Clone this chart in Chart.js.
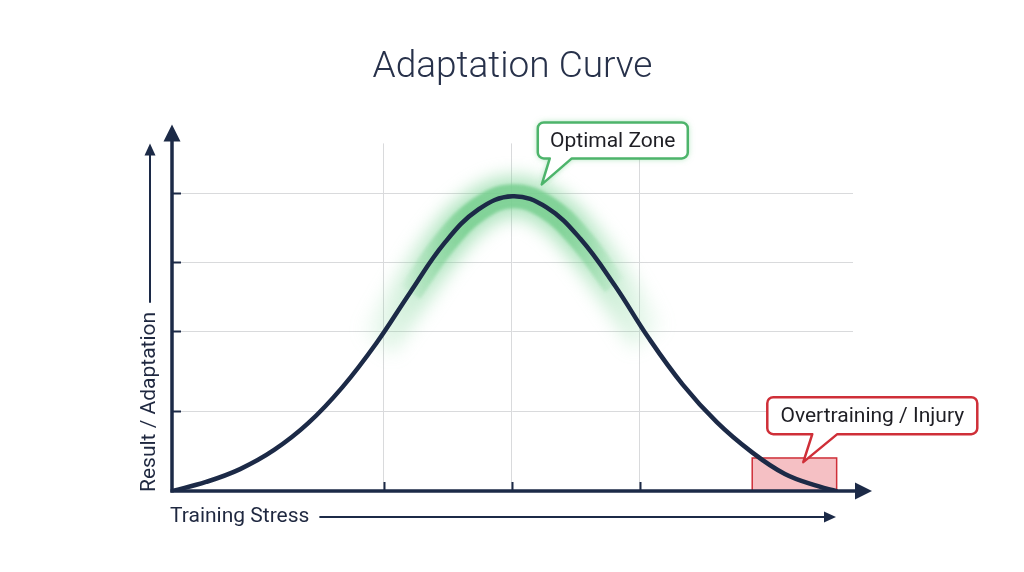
<!DOCTYPE html>
<html>
<head>
<meta charset="utf-8">
<title>Adaptation Curve</title>
<script src="https://cdn.jsdelivr.net/npm/chart.js@4.4.1/dist/chart.umd.min.js"></script>
<style>
  html, body { margin: 0; padding: 0; background: #ffffff; }
  #wrap { width: 1024px; height: 572px; position: relative; }
</style>
</head>
<body>
<div id="wrap"><canvas id="chart"></canvas></div>
<script>
// Data (x: training stress 0-100, y: adaptation 0-100)
const stressValues     = [0, 5, 10, 15, 20, 25, 30, 35, 40, 45, 50, 55, 60, 65, 70, 75, 80, 85, 90, 95, 97.5];
const adaptationValues = [0, 2.6, 6.3, 11.8, 19.5, 29.8, 42.5, 57.2, 71.3, 81.0, 84.8, 81.6, 72.5, 59.2, 44.0, 30.6, 19.8, 11.4, 4.9, 1.3, 0];

const xGridValues = [31.1, 49.9, 68.7];
const yGridValues = [23.0, 46.0, 65.8, 85.6];

const optimalRange = [27, 73];      // soft glow along the curve
const peakRange = [33, 67];         // solid band around the peak
const dangerZone = [85.2, 97.6, 9.5]; // from, to, height
const optimalTip = [54.3, 88.2];
const injuryTip = [92.7, 8.3];

const titleText = 'Adaptation Curve';
const xLabel = 'Training Stress';
const yLabel = 'Result / Adaptation';
const optimalText = 'Optimal Zone';
const injuryText = 'Overtraining / Injury';

const navy = '#1c2a47';
const gridGrey = '#d9dadc';
const green = '#4db46b';
const red = '#cf2f38';
const font = 'Roboto, "Noto Sans", sans-serif';

const curvePoints = stressValues.map((x, i) => ({ x, y: adaptationValues[i] }));
const inRange = (r) => curvePoints.filter(p => p.x >= r[0] && p.x <= r[1]);

const glowColor = (range, rgb, alpha) => (context) => {
    const chart = context.chart;
    if (!chart.chartArea) return 'rgba(0,0,0,0)';
    const xs = chart.scales.x;
    const g = chart.ctx.createLinearGradient(xs.getPixelForValue(range[0]), 0, xs.getPixelForValue(range[1]), 0);
    g.addColorStop(0, `rgba(${rgb}, 0)`);
    g.addColorStop(0.3, `rgba(${rgb}, ${alpha})`);
    g.addColorStop(0.7, `rgba(${rgb}, ${alpha})`);
    g.addColorStop(1, `rgba(${rgb}, 0)`);
    return g;
};

function calloutPath(ctx, x, y, w, h, r, t0, t1, tx, ty) {
    ctx.beginPath();
    ctx.moveTo(x + r, y);
    ctx.lineTo(x + w - r, y);
    ctx.arcTo(x + w, y, x + w, y + r, r);
    ctx.lineTo(x + w, y + h - r);
    ctx.arcTo(x + w, y + h, x + w - r, y + h, r);
    ctx.lineTo(t1, y + h);
    ctx.lineTo(tx, ty);
    ctx.lineTo(t0, y + h);
    ctx.lineTo(x + r, y + h);
    ctx.arcTo(x, y + h, x, y + h - r, r);
    ctx.lineTo(x, y + r);
    ctx.arcTo(x, y, x + r, y, r);
    ctx.closePath();
}

function drawCallout(ctx, tx, ty, box, color, glow, text) {
    const x = tx + box.dx, y = ty + box.dy;
    ctx.save();
    calloutPath(ctx, x, y, box.w, box.h, 6, tx + box.t0, tx + box.t1, tx, ty);
    ctx.fillStyle = '#ffffff';
    if (glow) { ctx.shadowColor = glow; ctx.shadowBlur = 6; }
    ctx.fill();
    ctx.shadowBlur = 0;
    ctx.lineWidth = 2.5;
    ctx.strokeStyle = color;
    ctx.lineJoin = 'round';
    ctx.stroke();
    ctx.fillStyle = '#1e1e24';
    ctx.font = `21px ${font}`;
    ctx.textAlign = 'center';
    ctx.textBaseline = 'middle';
    ctx.fillText(text, x + box.w / 2, y + box.h / 2 + 1);
    ctx.restore();
}

function arrowHead(ctx, tipX, tipY, dir, len, half) {
    ctx.beginPath();
    if (dir === 'up') {
        ctx.moveTo(tipX, tipY);
        ctx.lineTo(tipX - half, tipY + len);
        ctx.lineTo(tipX + half, tipY + len);
    } else {
        ctx.moveTo(tipX, tipY);
        ctx.lineTo(tipX - len, tipY - half);
        ctx.lineTo(tipX - len, tipY + half);
    }
    ctx.closePath();
    ctx.fill();
}

const decorPlugin = {
    id: 'decor',
    beforeDatasetsDraw(chart) {
        const { ctx, scales: { x, y } } = chart;
        // overtraining zone
        const x0 = x.getPixelForValue(dangerZone[0]);
        const x1 = x.getPixelForValue(dangerZone[1]);
        const y0 = y.getPixelForValue(dangerZone[2]);
        const y1 = y.getPixelForValue(0);
        ctx.save();
        ctx.fillStyle = 'rgba(236, 130, 138, 0.5)';
        ctx.fillRect(x0, y0, x1 - x0, y1 - y0);
        ctx.strokeStyle = red;
        ctx.lineWidth = 1.5;
        ctx.strokeRect(x0, y0, x1 - x0, y1 - y0);
        ctx.restore();
    },
    beforeDatasetDraw(chart, args) {
        const ds = chart.data.datasets[args.index];
        if (ds.blur) {
            chart.ctx.save();
            chart.ctx.filter = `blur(${ds.blur}px)`;
        }
    },
    afterDatasetDraw(chart, args) {
        const ds = chart.data.datasets[args.index];
        if (ds.blur) chart.ctx.restore();
    },
    afterDatasetsDraw(chart) {
        const { ctx, chartArea: { left, right, top, bottom }, scales: { x, y } } = chart;
        ctx.save();
        ctx.strokeStyle = navy;
        ctx.fillStyle = navy;

        // tick marks
        ctx.lineWidth = 2;
        yGridValues.forEach(v => {
            const py = Math.round(y.getPixelForValue(v)) + 0.5;
            ctx.beginPath(); ctx.moveTo(left, py); ctx.lineTo(left + 9, py); ctx.stroke();
        });
        xGridValues.forEach(v => {
            const px = Math.round(x.getPixelForValue(v)) + 0.5;
            ctx.beginPath(); ctx.moveTo(px, bottom); ctx.lineTo(px, bottom - 9); ctx.stroke();
        });

        // axes with arrows
        ctx.lineWidth = 3.5;
        ctx.beginPath();
        ctx.moveTo(left, bottom + 1.5);
        ctx.lineTo(left, top - 4);
        ctx.stroke();
        arrowHead(ctx, left, top - 19, 'up', 17, 8.5);
        ctx.beginPath();
        ctx.moveTo(left - 1.5, bottom);
        ctx.lineTo(right + 4, bottom);
        ctx.stroke();
        arrowHead(ctx, right + 19, bottom, 'right', 17, 8.5);

        // axis labels with arrows
        ctx.font = `21px ${font}`;
        ctx.textBaseline = 'middle';
        ctx.fillStyle = '#1f2840';
        const ly = bottom + 26;
        ctx.textAlign = 'left';
        ctx.fillText(xLabel, left - 2, ly);
        const xw = ctx.measureText(xLabel).width;
        ctx.lineWidth = 2;
        ctx.fillStyle = navy;
        ctx.beginPath();
        ctx.moveTo(left - 2 + xw + 10, ly);
        ctx.lineTo(right - 26, ly);
        ctx.stroke();
        arrowHead(ctx, right - 17, ly, 'right', 12, 5.5);

        const lx = left - 22;
        ctx.save();
        ctx.translate(lx, bottom + 1);
        ctx.rotate(-Math.PI / 2);
        ctx.fillStyle = '#1f2840';
        ctx.textAlign = 'left';
        ctx.fillText(yLabel, 0, 0);
        ctx.restore();
        const yw = ctx.measureText(yLabel).width;
        ctx.beginPath();
        ctx.moveTo(lx, bottom - yw - 8);
        ctx.lineTo(lx, top + 10);
        ctx.stroke();
        arrowHead(ctx, lx, top, 'up', 12, 5.5);
        ctx.restore();

        // callouts
        drawCallout(ctx, x.getPixelForValue(optimalTip[0]), y.getPixelForValue(optimalTip[1]),
            { dx: -4, dy: -62, w: 150, h: 36, t0: 8, t1: 30 }, green, 'rgba(88, 200, 118, 0.6)', optimalText);
        drawCallout(ctx, x.getPixelForValue(injuryTip[0]), y.getPixelForValue(injuryTip[1]),
            { dx: -36, dy: -65, w: 210, h: 37, t0: 9, t1: 34 }, red, null, injuryText);
    }
};

// datasets are painted last-to-first, so the curve comes first to sit on top
new Chart(document.getElementById('chart'), {
    type: 'line',
    data: {
        datasets: [
            {
                label: 'Adaptation',
                data: curvePoints,
                borderColor: navy,
                borderWidth: 4.5,
                pointRadius: 0,
                tension: 0.4,
                borderCapStyle: 'round'
            },
            {
                label: 'glow-inner',
                data: inRange(peakRange),
                borderColor: glowColor(peakRange, '118, 206, 142', 0.8),
                borderWidth: 24,
                blur: 1.5,
                pointRadius: 0,
                tension: 0.4
            },
            {
                label: 'glow-outer',
                data: inRange(optimalRange),
                borderColor: glowColor(optimalRange, '120, 210, 146', 0.6),
                borderWidth: 40,
                blur: 9,
                pointRadius: 0,
                tension: 0.4
            }
        ]
    },
    options: {
        responsive: true,
        maintainAspectRatio: false,
        animation: false,
        layout: { padding: { left: 172, right: 171, top: 46, bottom: 81 } },
        plugins: {
            legend: { display: false },
            tooltip: { enabled: false },
            title: {
                display: true,
                text: titleText,
                color: '#27314a',
                font: { family: font, size: 37, weight: '300' },
                padding: { top: 0, bottom: 53 }
            }
        },
        scales: {
            x: {
                type: 'linear',
                min: 0,
                max: 100,
                afterBuildTicks: (s) => { s.ticks = xGridValues.map(v => ({ value: v })); },
                ticks: { display: false },
                grid: { color: gridGrey, lineWidth: 1, drawTicks: false },
                border: { display: false }
            },
            y: {
                type: 'linear',
                min: 0,
                max: 100,
                afterBuildTicks: (s) => { s.ticks = yGridValues.map(v => ({ value: v })); },
                ticks: { display: false },
                grid: { color: gridGrey, lineWidth: 1, drawTicks: false },
                border: { display: false }
            }
        }
    },
    plugins: [decorPlugin]
});
</script>
</body>
</html>
